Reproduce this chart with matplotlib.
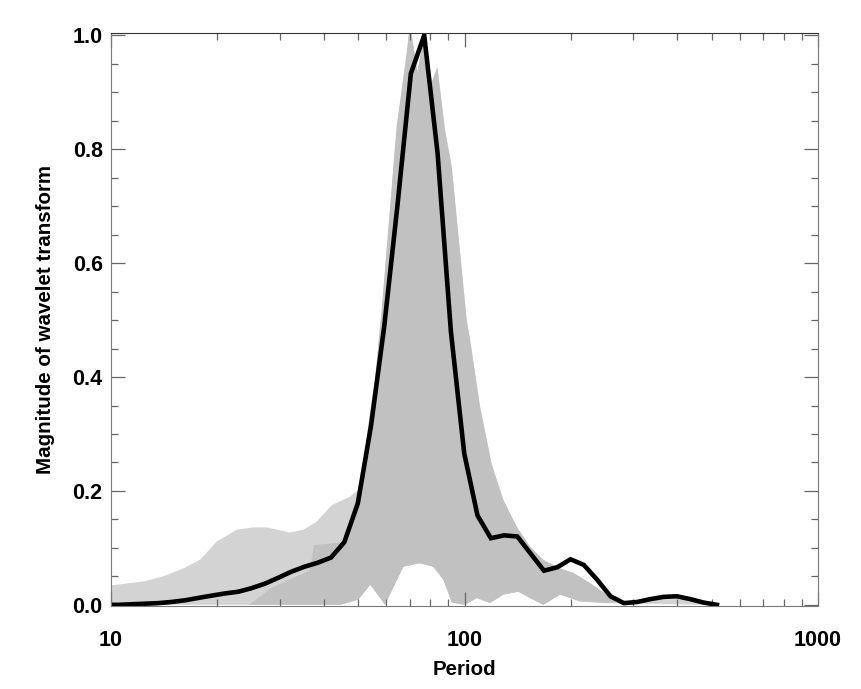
import numpy as np
import matplotlib
matplotlib.use('Agg')
from matplotlib import pyplot as plt
from matplotlib.ticker import FixedLocator, MultipleLocator, FuncFormatter, NullFormatter

plt.rcParams['font.family'] = ['Liberation Sans', 'DejaVu Sans']
plt.rcParams['font.weight'] = 'bold'

# global wavelet spectrum (black line), period vs normalised magnitude
period = [9.6, 10.5, 11.4, 12.5, 13.6, 14.8, 16.2, 17.6, 19.2, 21.0, 22.9, 24.9, 27.2,
          29.6, 32.3, 35.3, 38.45, 41.9, 45.7, 49.9, 54.4, 59.3, 64.7, 70.5, 76.9,
          83.9, 91.5, 99.8, 108.8, 118.7, 129.4, 141.1, 153.8, 167.8, 183.0, 199.5,
          217.6, 237.3, 258.8, 282.2, 307.7, 335.6, 366.0, 399.1, 435.2, 474.6, 517.6]
magnitude = [0.0, 0.0, 0.001, 0.002, 0.003, 0.005, 0.008, 0.012, 0.016, 0.020, 0.023, 0.029, 0.037,
             0.047, 0.058, 0.067, 0.074, 0.083, 0.11, 0.178, 0.315, 0.49, 0.705, 0.933, 1.0,
             0.793, 0.48, 0.266, 0.157, 0.117, 0.122, 0.12, 0.09, 0.06, 0.066, 0.08,
             0.07, 0.044, 0.015, 0.003, 0.005, 0.010, 0.014, 0.015, 0.010, 0.004, 0.0]

# envelope of the individual (local) spectra, grey band
upper_period = [10.0, 12.34, 14.06, 16.02, 17.86, 19.91, 22.68, 25.27, 27.57, 32.09, 34.99,
                38.18, 42.11, 47.44, 50.07, 51.73, 54.04, 55.83, 58.32, 64.30, 68.62, 70.11,
                73.54, 76.96, 79.88, 83.78, 88.08, 91.99, 101.4, 103.7, 110.6, 119.4, 128.8,
                140.5, 153.2, 167.1, 186.3, 203.2, 226.5, 252.6, 269.6, 293.9, 357.4, 434.5, 479.0]
upper_mag = [0.034, 0.041, 0.050, 0.064, 0.079, 0.111, 0.132, 0.136, 0.136, 0.127, 0.132,
             0.146, 0.175, 0.19, 0.202, 0.249, 0.337, 0.395, 0.518, 0.84, 0.968, 1.02,
             0.936, 1.0, 0.909, 0.944, 0.833, 0.769, 0.50, 0.465, 0.348, 0.246, 0.184,
             0.137, 0.102, 0.079, 0.064, 0.056, 0.038, 0.018, 0.006, 0.004, 0.010, 0.010, 0.003]
lower_period = [10.0, 44.45, 50.07, 54.04, 54.64, 57.68, 59.58, 67.12, 74.82, 81.56, 87.1,
                89.98, 91.99, 100.3, 108.3, 118.1, 128.8, 142.0, 153.2, 167.1, 186.3,
                212.2, 252.6, 479.0]
lower_mag = [0.0, 0.0, 0.009, 0.035, 0.032, 0.012, 0.0, 0.067, 0.073, 0.067, 0.044,
             0.021, 0.004, 0.0, 0.012, 0.003, 0.018, 0.023, 0.012, 0.0, 0.018,
             0.006, 0.003, 0.0]

# darker core of the band (where most spectra overlap)
core_period = [24.5, 28.5, 33.5, 36.5, 37.5, 45.5, 49.5, 51.73, 54.04, 55.83, 58.32, 64.30,
               68.62, 70.11, 73.54, 76.96, 79.88, 83.78, 88.08, 91.99, 101.4, 103.7, 110.6,
               119.4, 128.8, 140.5, 153.2, 167.1, 186.3, 203.2, 226.5, 252.6, 269.6]
core_mag = [0.0, 0.03, 0.05, 0.06, 0.105, 0.11, 0.19, 0.249, 0.337, 0.395, 0.518, 0.84,
            0.968, 1.02, 0.936, 1.0, 0.909, 0.944, 0.833, 0.769, 0.50, 0.465, 0.348,
            0.246, 0.184, 0.137, 0.102, 0.079, 0.064, 0.056, 0.038, 0.018, 0.006]

fig = plt.figure(figsize=(8.62, 6.89), dpi=100)
ax = fig.add_axes([0.1288, 0.1205, 0.8202, 0.8315])

# outer band
ax.fill(upper_period + lower_period[::-1], upper_mag + lower_mag[::-1],
        color='#d3d3d3', lw=0)
# core band, closed along the lower envelope
low_core = [(p, m) for p, m in zip(lower_period, lower_mag) if core_period[0] <= p <= core_period[-1]]
ax.fill(core_period + [p for p, m in low_core][::-1], core_mag + [m for p, m in low_core][::-1],
        color='#c1c1c1', lw=0)

ax.plot(period, magnitude, color='black', lw=3.3, solid_joinstyle='miter')

ax.set_xscale('log')
ax.set_xlim(10, 1000)
ax.set_ylim(-0.002, 1.004)

ax.xaxis.set_major_locator(FixedLocator([10, 100, 1000]))
ax.xaxis.set_minor_locator(FixedLocator([v * d for d in (10, 100) for v in range(2, 10)]))
ax.xaxis.set_major_formatter(FuncFormatter(lambda v, pos: '%d' % v))
ax.xaxis.set_minor_formatter(NullFormatter())
ax.yaxis.set_major_locator(MultipleLocator(0.2))
ax.yaxis.set_minor_locator(MultipleLocator(0.05))
ax.yaxis.set_major_formatter(FuncFormatter(lambda v, pos: '%.1f' % v))

ax.tick_params(which='both', direction='in', top=True, right=True, color='#666666', width=0.9)
ax.tick_params(which='major', length=10, labelsize=15.5)
ax.tick_params(which='minor', length=5)
ax.tick_params(axis='x', which='major', pad=17)
ax.tick_params(axis='y', which='major', pad=6)

for side in ['left', 'right', 'bottom']:
    ax.spines[side].set_color('#7a7a7a')
ax.spines['top'].set_color('#333333')

ax.set_xlabel('Period', fontsize=14.8, fontweight='bold', labelpad=7)
ax.set_ylabel('Magnitude of wavelet transform', fontsize=14.8, fontweight='bold', labelpad=13)

fig.savefig('out.png', dpi=100)
